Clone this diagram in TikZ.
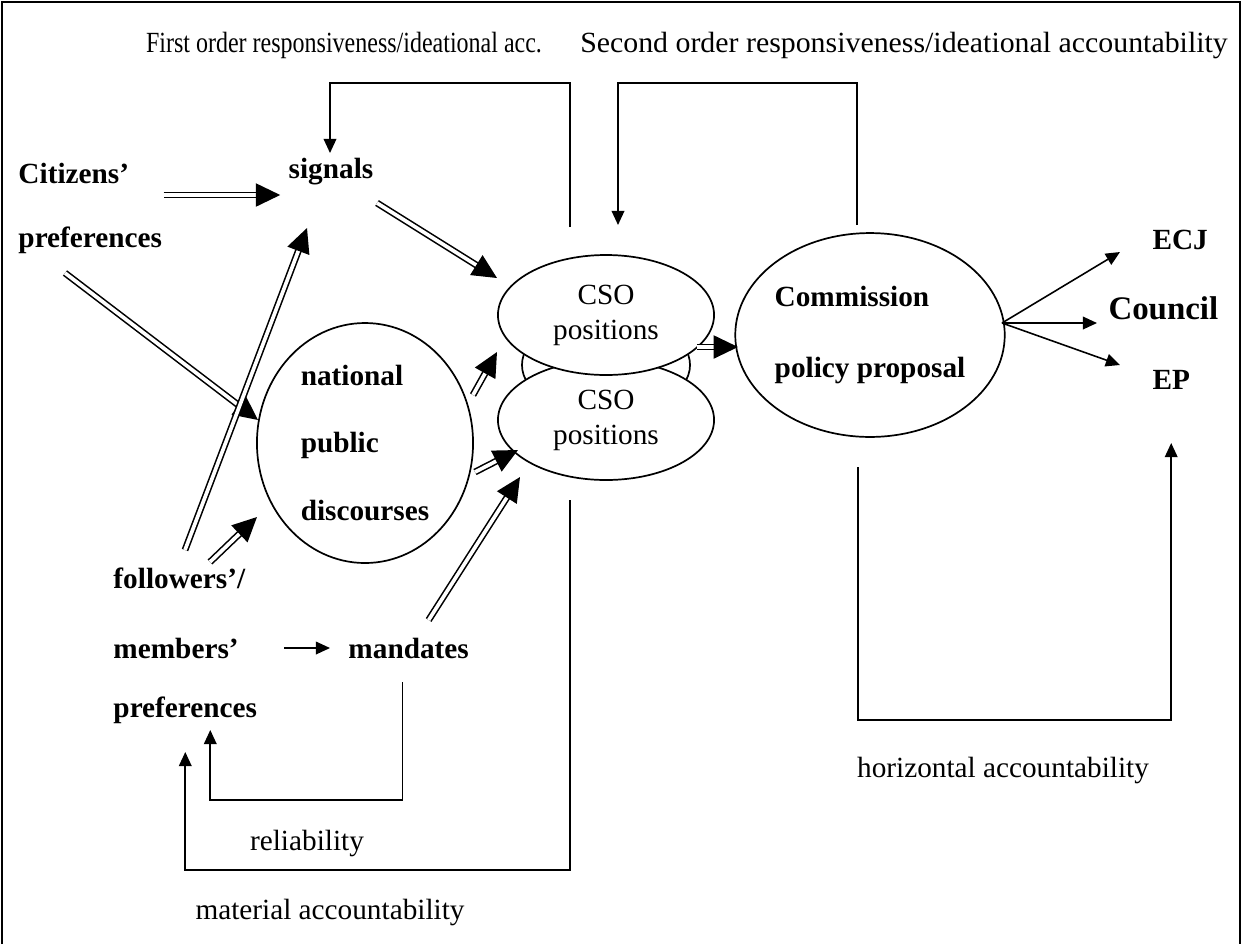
\documentclass[tikz,border=0pt]{standalone}
\usepackage{fontspec}
\setmainfont{Liberation Serif}
\usetikzlibrary{arrows.meta,shapes.geometric}

\begin{document}
\begin{tikzpicture}[x=0.41pt, y=-0.41pt,
        lbl/.style={inner sep=0pt, font=\fontsize{12}{14.4}\selectfont},
        blbl/.style={inner sep=0pt, font=\fontsize{12}{14.4}\selectfont\bfseries},
        oval/.style={ellipse, draw, fill=white, inner sep=0pt, line width=0.7pt},
        sarr/.style={line width=0.65pt, -{Triangle[length=5.8pt, width=5.2pt]}},
        dbl/.style={double, double distance=1.5pt, line width=0.65pt, -{Triangle[length=10pt, width=9.5pt]}}]

        \useasboundingbox (0,0) rectangle (1243,944);
        \draw[line width=0.7pt] (2,944) -- (2,2) -- (1240,2) -- (1240,944);

        \node[lbl] (ord1) at (344,45) {\scalebox{0.82}[1]{First order responsiveness/ideational acc.}};
        \node[lbl] (ord2) at (904,45) {\scalebox{1.02}[1]{Second order responsiveness/ideational accountability}};

        \node[blbl, anchor=west] (citz) at (18,173) {Citizens’};
        \node[blbl, anchor=west] (prefA) at (18,240) {preferences};
        \node[blbl] (signals) at (331,172) {signals};
        \node[blbl, anchor=west] (foll) at (113,578) {followers’/};
        \node[blbl, anchor=west] (memb) at (113,648) {members’};
        \node[blbl, anchor=west] (prefB) at (113,710) {preferences};
        \node[blbl, anchor=west] (mand) at (348,648) {mandates};

        \node[oval, minimum width=88.6pt, minimum height=98.4pt, align=left,
              font=\bfseries\fontsize{12}{27.5}\selectfont] (npd) at (365,443) {national\\public\\discourses};

        % stacked CSO ovals
        \node[oval, minimum width=68.9pt, minimum height=41pt] (csoM) at (606,365) {};
        \node[oval, minimum width=88.6pt, minimum height=49.2pt, align=center, lbl] (csoB) at (606,420) {CSO\\positions};
        \node[oval, minimum width=88.6pt, minimum height=49.2pt, align=center, lbl] (csoA) at (606,315) {CSO\\positions};

        \node[oval, minimum width=108.2pt, minimum height=83.6pt, align=left,
              font=\bfseries\fontsize{12}{29.5}\selectfont] (comm) at (870,335) {Commission\\policy proposal};

        \node[blbl, anchor=west] (ecj) at (1152,240) {ECJ};
        \node[inner sep=0pt, anchor=west, font=\fontsize{13.5}{15}\selectfont\bfseries] (council) at (1108,308) {Council};
        \node[blbl, anchor=west] (ep) at (1152,380) {EP};

        \node[lbl] (rel) at (307,843) {reliability};
        \node[lbl] (mat) at (330,912) {material accountability};
        \node[lbl] (hor) at (1003,770) {horizontal accountability};

        \coordinate (topA) at (450,83);
        \coordinate (topB) at (737,83);
        \coordinate (botH) at (1000,720);
        \coordinate (botR) at (300,800);
        \coordinate (botM) at (380,870);

        % double arrows
        \draw[dbl] ([shift={(34,22)}]citz.east) -- ([shift={(-8,23)}]signals.west);
        \draw[dbl] ([shift={(47,33)}]prefA.west) -- ([shift={(-107,-23)}]npd.center);
        \draw[dbl] ([shift={(72,-28)}]foll.west) -- ([shift={(-24,56)}]signals.center);
        \draw[dbl] ([shift={(97,-16)}]foll.west) -- ([shift={(-108,74)}]npd.center);
        \draw[dbl] ([shift={(46,31)}]signals.center) -- ([shift={(-109,-37)}]csoA.center);
        \draw[dbl] ([shift={(108,-48)}]npd.center) -- ([shift={(-109,37)}]csoA.center);
        \draw[dbl] ([shift={(110,29)}]npd.center) -- ([shift={(-88,30)}]csoB.center);
        \draw[dbl] ([shift={(20,-28)}]mand.center) -- ([shift={(-86,57)}]csoB.center);
        \draw[dbl] ([shift={(91,32)}]csoA.center) -- ([shift={(-132,12)}]comm.center);

        % single arrows
        \draw[sarr] ([shift={(45,0)}]memb.east) -- ([shift={(-18,0)}]mand.west);
        \draw[sarr] ([shift={(132,-12)}]comm.center) -- ([shift={(-32,12)}]ecj.west);
        \draw[sarr] ([shift={(132,-12)}]comm.center) -- ([shift={(-11,15)}]council.west);
        \draw[sarr] ([shift={(132,-12)}]comm.center) -- ([shift={(-32,-15)}]ep.west);

        % feedback loops
        \draw[sarr] ([shift={(-36,-88)}]csoA.center) |- (topA) -| ([shift={(-1,-19)}]signals.center);
        \draw[sarr] ([shift={(-13,-110)}]comm.center) |- (topB) -| ([shift={(12,-90)}]csoA.center);
        \draw[sarr] ([shift={(-12,132)}]comm.center) |- (botH) -| ([shift={(0,63)}]ep.center);
        \draw[sarr] ([shift={(-6,34)}]mand.center) |- (botR) -| ([shift={(25,20)}]prefB.center);
        \draw[sarr] ([shift={(-36,80)}]csoB.center) |- (botM) -| ([shift={(0,42)}]prefB.center);
\end{tikzpicture}
\end{document}
